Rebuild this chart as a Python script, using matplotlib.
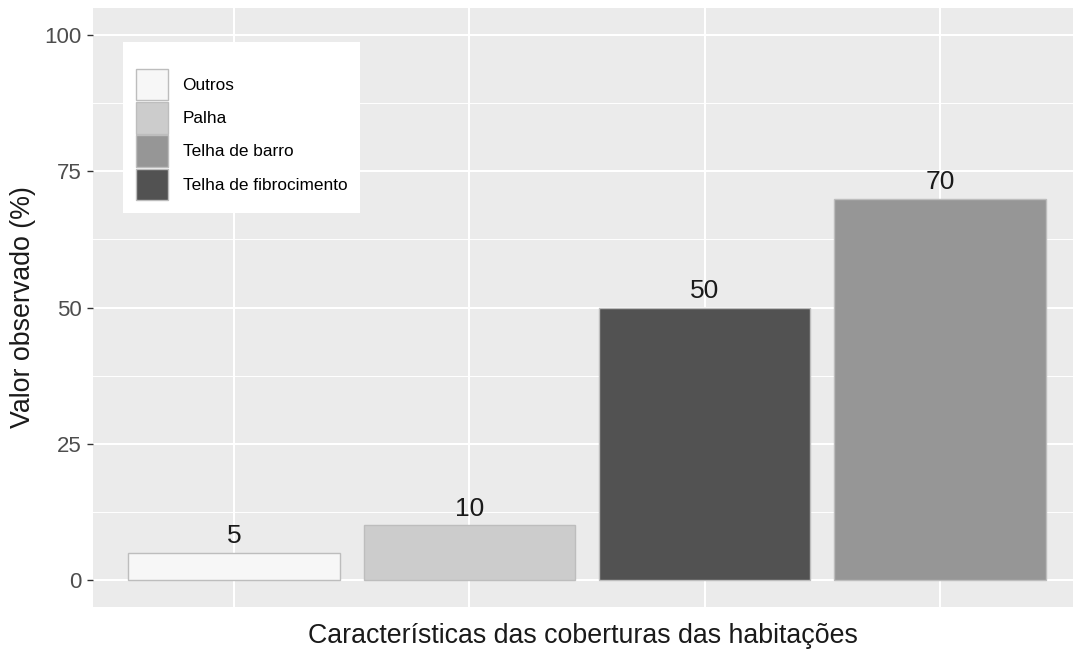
"""Bar chart of roof covering types (ggplot-like style)."""

import matplotlib

matplotlib.use("Agg")
import matplotlib.pyplot as plt
from matplotlib.patches import Patch

categories = ["Outros", "Palha", "Telha de fibrocimento", "Telha de barro"]
values = [5, 10, 50, 70]
legend_order = ["Outros", "Palha", "Telha de barro", "Telha de fibrocimento"]
fill_colors = {
    "Outros": "#F7F7F7",
    "Palha": "#CCCCCC",
    "Telha de barro": "#969696",
    "Telha de fibrocimento": "#525252",
}
y_ticks = [0, 25, 50, 75, 100]
y_minor = [12.5, 37.5, 62.5, 87.5]

plt.rcParams["font.family"] = ["Liberation Sans", "DejaVu Sans"]

fig = plt.figure(figsize=(10.73, 6.5), dpi=100)
ax = fig.add_axes([93 / 1073, 43 / 650, 980 / 1073, 599 / 650])
ax.set_facecolor("#EBEBEB")

x = list(range(1, len(categories) + 1))
bars = ax.bar(
    x,
    values,
    width=0.9,
    color=[fill_colors[c] for c in categories],
    edgecolor="#BDBDBD",
    linewidth=1.0,
    zorder=3,
)
for xi, v in zip(x, values):
    ax.annotate(
        str(v),
        (xi, v),
        xytext=(0, 3),
        textcoords="offset points",
        ha="center",
        va="bottom",
        fontsize=19,
        color="#1A1A1A",
        zorder=4,
    )

ax.set_xlim(0.4, 4.566)
ax.set_ylim(-5, 105)
ax.set_yticks(y_ticks)
ax.set_yticks(y_minor, minor=True)
ax.set_xticks(x)
ax.set_xticklabels([])
ax.grid(True, which="major", color="white", linewidth=1.5, zorder=0)
ax.grid(True, which="minor", axis="y", color="white", linewidth=0.7, zorder=0)
ax.set_axisbelow(True)
ax.tick_params(axis="x", length=0)
ax.tick_params(axis="y", which="major", length=4, width=1, color="#333333",
               labelsize=16, labelcolor="#4D4D4D", pad=4)
ax.tick_params(axis="y", which="minor", length=0)
for s in ax.spines.values():
    s.set_visible(False)

ax.set_xlabel("Características das coberturas das habitações", fontsize=19.3,
              color="#1A1A1A", labelpad=8)
ax.set_ylabel("Valor observado (%)", fontsize=19.3, color="#1A1A1A", labelpad=6)

handles = [
    Patch(facecolor=fill_colors[c], edgecolor="#BDBDBD", linewidth=1.0)
    for c in legend_order
]
leg = ax.legend(
    handles,
    legend_order,
    loc="upper left",
    bbox_to_anchor=(123 / 1073, 1 - 42 / 650),
    bbox_transform=fig.transFigure,
    fontsize=12.4,
    title=" ",
    title_fontsize=9,
    frameon=True,
    fancybox=False,
    framealpha=1,
    edgecolor="white",
    handlelength=1.86,
    handleheight=2.45,
    handletextpad=0.85,
    labelspacing=0.1,
    borderpad=0.75,
    borderaxespad=0,
)
leg.get_frame().set_linewidth(0)

fig.savefig("out.png", dpi=100)
